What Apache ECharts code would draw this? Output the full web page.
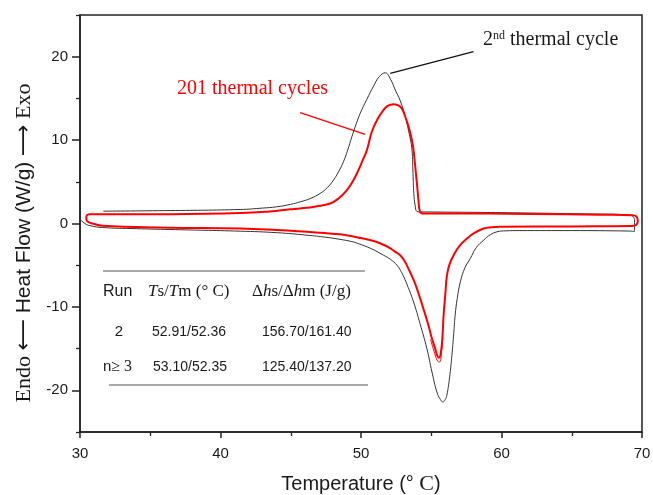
<!DOCTYPE html>
<html>
<head>
<meta charset="utf-8">
<script src="https://cdn.jsdelivr.net/npm/echarts@6/dist/echarts.min.js"></script>
<style>
  html, body { margin: 0; padding: 0; background: #fff; }
  #chart { width: 653px; height: 495px; }
</style>
</head>
<body>
<div id="chart"></div>
<script>
// DSC curves, [temperature (°C), heat flow (W/g)]
// 2nd thermal cycle: heating (endo) then cooling (exo)
const cycle2Heating = [
  [30.0, 0.5], [30.35, 0.0], [30.7, -0.25], [31.6, -0.48], [34.0, -0.62], [36.4, -0.72],
  [41.4, -0.92], [44.0, -1.1], [46.15, -1.4], [47.5, -1.65], [48.5, -1.9], [49.3, -2.15],
  [49.8, -2.4], [50.7, -3.0], [51.6, -3.8], [52.1, -4.3], [52.56, -5.0], [52.9, -5.9],
  [53.2, -7.0], [53.74, -9.4], [54.2, -12.0], [54.69, -15.0], [55.05, -17.8], [55.4, -20.2],
  [55.65, -21.1], [55.83, -21.4], [56.0, -21.1], [56.11, -20.6], [56.3, -18.5], [56.47, -15.8],
  [56.6, -13.2], [56.7, -11.0], [56.85, -9.0], [57.07, -7.0], [57.4, -5.3], [57.78, -4.2],
  [58.2, -2.9], [58.73, -2.0], [59.2, -1.35], [59.68, -1.0], [60.3, -0.88], [61.3, -0.85],
  [65.0, -0.85], [69.0, -0.9], [69.46, -0.95]
];
const cycle2Cooling = [
  [69.47, 0.3], [69.35, 0.85], [69.0, 1.05], [66.0, 1.15], [60.0, 1.3], [55.0, 1.38],
  [54.2, 1.39], [53.98, 1.45], [53.85, 2.2], [53.76, 3.6], [53.7, 6.0], [53.63, 8.8],
  [53.4, 11.0], [53.15, 12.8], [52.8, 14.7], [52.44, 16.0], [52.1, 17.3], [51.72, 18.07],
  [51.3, 17.6], [50.9, 16.5], [50.42, 14.9], [49.94, 13.2], [49.65, 11.9], [49.35, 10.4],
  [49.05, 8.8], [48.75, 7.4], [48.4, 6.2], [48.04, 5.2], [47.6, 4.3], [47.09, 3.6],
  [46.4, 3.0], [45.67, 2.6], [45.0, 2.3], [44.0, 2.0], [43.0, 1.85], [41.4, 1.68],
  [36.4, 1.55], [31.66, 1.48]
];
// 201 thermal cycles
const cycle201Heating = [
  [30.6, 1.1], [30.45, 0.85], [30.47, 0.4], [30.6, 0.15], [30.9, 0.0], [31.6, -0.28],
  [34.0, -0.42], [36.4, -0.52], [41.4, -0.6], [44.0, -0.78], [46.15, -1.0], [47.4, -1.15],
  [48.5, -1.3], [49.3, -1.5], [50.0, -1.75], [50.9, -2.1], [51.6, -2.55], [52.0, -2.9],
  [52.4, -3.35], [52.79, -3.8], [53.1, -4.5], [53.4, -5.5], [53.7, -6.6], [53.98, -7.8],
  [54.4, -10.0], [54.8, -12.2], [55.05, -13.8], [55.28, -15.0], [55.42, -15.8], [55.55, -16.1],
  [55.69, -15.4], [55.8, -13.5], [55.88, -11.0], [56.0, -8.5], [56.12, -6.2], [56.3, -4.9],
  [56.59, -3.8], [57.0, -2.7], [57.54, -1.8], [58.1, -1.1], [58.73, -0.6], [59.3, -0.45],
  [59.9, -0.4], [65.0, -0.35], [69.2, -0.3], [69.55, -0.2]
];
const cycle201Cooling = [
  [69.7, 0.3], [69.6, 0.85], [69.3, 1.0], [67.0, 1.05], [62.0, 1.15], [56.0, 1.2],
  [54.5, 1.2], [54.2, 1.4], [54.08, 3.0], [53.98, 4.8], [53.85, 7.0], [53.74, 8.8],
  [53.6, 10.2], [53.39, 11.6], [53.15, 12.8], [52.9, 13.8], [52.6, 14.2], [52.3, 14.3],
  [51.9, 14.1], [51.6, 13.6], [51.2, 12.6], [50.77, 11.0], [50.42, 8.8], [50.1, 7.5],
  [49.82, 6.4], [49.4, 5.0], [48.99, 4.0], [48.4, 3.0], [47.8, 2.4], [46.8, 2.05],
  [45.67, 1.8], [44.96, 1.7], [43.5, 1.45], [41.4, 1.25], [36.4, 1.12], [31.0, 1.1], [30.6, 1.1]
];
// outer trace of the scattered 201-cycle runs at the endo peak
const cycle201TroughOuter = [
  [54.95, -13.9], [55.25, -15.6], [55.45, -16.5], [55.6, -16.6], [55.72, -15.6], [55.82, -13.6]
];

// leader lines for the labels
const leader2nd = [[52.08, 18.0], [58.01, 20.6]];
const leader201 = [[45.67, 13.3], [50.3, 10.7]];

const yMajorTicks = [-20, -10, 0, 10, 20];
const yMinorTicks = [-25, -15, -5, 5, 15, 25];

// inset table
const tableRuns = ['2', 'n≥ 3'];
const tableTemps = ['52.91/52.36', '53.10/52.35'];
const tableEnthalpy = ['156.70/161.40', '125.40/137.20'];

const SANS = 'Liberation Sans';
const SERIF = 'Liberation Serif';
const INK = '#1a1a1a';
const RED = '#ff0000';

const chart = echarts.init(document.getElementById('chart'));

const rowY = [332, 367];
const tableTexts = [];
tableRuns.forEach((run, i) => {
  const isPlain = i === 0;
  tableTexts.push({
    type: 'text', x: isPlain ? 119 : 103, y: rowY[i],
    style: {
      text: isPlain ? run : '{s|n}{m|≥ 3}',
      rich: { s: { fontFamily: SANS, fontSize: 15, fill: INK }, m: { fontFamily: SERIF, fontSize: 16, fill: INK } },
      font: '15px ' + SANS, fill: INK, align: isPlain ? 'center' : 'left', verticalAlign: 'middle'
    }
  });
  tableTexts.push({
    type: 'text', x: i === 0 ? 152 : 153, y: rowY[i],
    style: { text: tableTemps[i], font: '14px ' + SANS, fill: INK, align: 'left', verticalAlign: 'middle' }
  });
  tableTexts.push({
    type: 'text', x: 262, y: rowY[i],
    style: { text: tableEnthalpy[i], font: '14px ' + SANS, fill: INK, align: 'left', verticalAlign: 'middle' }
  });
});

const option = {
  animation: false,
  backgroundColor: '#fff',
  grid: {
    left: 80, right: 11, top: 15, bottom: 63, outerBoundsMode: 'none',
    show: true, borderColor: '#222', borderWidth: 1.5
  },
  xAxis: {
    type: 'value', min: 30, max: 70, interval: 10,
    axisLine: { onZero: false, lineStyle: { color: '#222', width: 1.5 } },
    axisTick: { length: 6, lineStyle: { color: '#222', width: 1.5 } },
    minorTick: { show: true, splitNumber: 2, length: 4, lineStyle: { color: '#222', width: 1.3 } },
    splitLine: { show: false },
    axisLabel: { margin: 14, color: INK, fontSize: 15, fontFamily: SANS },
    name: '{a|Temperature (° }{c|C}{a|)}',
    nameLocation: 'middle', nameGap: 41,
    nameTextStyle: {
      rich: {
        a: { fontFamily: SANS, fontSize: 20, color: INK },
        c: { fontFamily: SERIF, fontSize: 22, color: INK }
      }
    }
  },
  yAxis: [
    {
      type: 'value', min: -25, max: 25, interval: 5,
      axisLine: { show: true, onZero: false, lineStyle: { color: '#222', width: 1.5 } },
      axisTick: { customValues: yMajorTicks, length: 8, lineStyle: { color: '#222', width: 1.5 } },
      splitLine: { show: false },
      axisLabel: { customValues: yMajorTicks, margin: 12, color: INK, fontSize: 15, fontFamily: SANS }
    },
    {
      type: 'value', min: -25, max: 25, interval: 5, position: 'left',
      axisLine: { show: false, onZero: false },
      axisTick: { customValues: yMinorTicks, length: 4, lineStyle: { color: '#222', width: 1.3 } },
      axisLabel: { show: false },
      splitLine: { show: false }
    }
  ],
  series: [
    {
      name: '2nd thermal cycle', type: 'line', smooth: 0.45, showSymbol: false,
      lineStyle: { color: '#333', width: 1 },
      data: cycle2Heating.concat(cycle2Cooling),
      markLine: {
        silent: true, symbol: 'none', label: { show: false },
        lineStyle: { color: '#111', width: 1.3, type: 'solid' },
        data: [[{ coord: leader2nd[0] }, { coord: leader2nd[1] }]]
      }
    },
    {
      name: '201 thermal cycles', type: 'line', smooth: 0.45, showSymbol: false,
      lineStyle: { color: RED, width: 2 },
      data: cycle201Heating.concat(cycle201Cooling),
      markLine: {
        silent: true, symbol: 'none', label: { show: false },
        lineStyle: { color: RED, width: 1.3, type: 'solid' },
        data: [[{ coord: leader201[0] }, { coord: leader201[1] }]]
      }
    },
    {
      name: '201 thermal cycles (outer)', type: 'line', smooth: 0.45, showSymbol: false,
      lineStyle: { color: RED, width: 1 },
      data: cycle201TroughOuter
    }
  ],
  graphic: [
    {
      // y-axis title, reading bottom to top
      type: 'text', x: 24, y: 243, rotation: Math.PI / 2,
      style: {
        text: '{s|Endo} {a|⟵} {h|Heat Flow (W/g)} {a|⟶} {s|Exo}',
        rich: {
          s: { fontFamily: SERIF, fontSize: 22, fill: INK },
          h: { fontFamily: SANS, fontSize: 21, fill: INK },
          a: { fontFamily: 'DejaVu Sans', fontSize: 22, fill: INK }
        },
        font: '20px ' + SANS, fill: INK, align: 'center', verticalAlign: 'middle'
      }
    },
    {
      type: 'text', x: 483, y: 40,
      style: {
        text: '{b|2}{sup|nd}{b| thermal cycle}',
        rich: {
          b: { fontFamily: SERIF, fontSize: 20, fill: INK },
          sup: { fontFamily: SERIF, fontSize: 12, fill: INK, verticalAlign: 'top' }
        },
        align: 'left', verticalAlign: 'middle'
      }
    },
    {
      type: 'text', x: 177, y: 89,
      style: { text: '201 thermal cycles', font: '20px ' + SERIF, fill: RED, align: 'left', verticalAlign: 'middle' }
    },
    // table rules
    { type: 'line', shape: { x1: 103, y1: 271, x2: 365, y2: 271 }, style: { stroke: '#555', lineWidth: 1 } },
    { type: 'line', shape: { x1: 109, y1: 385, x2: 368, y2: 385 }, style: { stroke: '#555', lineWidth: 1 } },
    {
      type: 'text', x: 103, y: 292,
      style: { text: 'Run', font: '16px ' + SANS, fill: INK, align: 'left', verticalAlign: 'middle' }
    },
    {
      type: 'text', x: 148, y: 292,
      style: {
        text: '{i|T}{r|s/}{i|T}{r|m (° C)}',
        rich: {
          i: { fontFamily: SERIF, fontStyle: 'italic', fontSize: 17, fill: INK },
          r: { fontFamily: SERIF, fontSize: 17, fill: INK }
        },
        align: 'left', verticalAlign: 'middle'
      }
    },
    {
      type: 'text', x: 252, y: 292,
      style: {
        text: '{r|Δ}{i|h}{r|s/Δ}{i|h}{r|m (J/g)}',
        rich: {
          i: { fontFamily: SERIF, fontStyle: 'italic', fontSize: 17, fill: INK },
          r: { fontFamily: SERIF, fontSize: 17, fill: INK }
        },
        align: 'left', verticalAlign: 'middle'
      }
    }
  ].concat(tableTexts)
};

chart.setOption(option);
window.addEventListener('resize', () => chart.resize());
</script>
</body>
</html>
